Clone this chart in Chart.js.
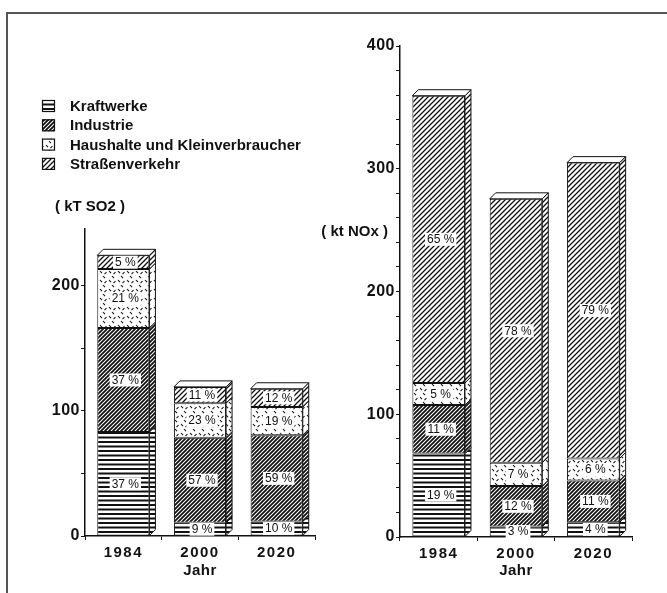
<!DOCTYPE html>
<html>
<head>
<meta charset="utf-8">
<script src="https://cdn.jsdelivr.net/npm/chart.js@4.4.1/dist/chart.umd.min.js"></script>
<style>
  html, body { margin: 0; padding: 0; background: #fff; }
  #wrap { position: relative; width: 667px; height: 593px; overflow: hidden; }
  #frame { position: absolute; left: 6px; top: 12px; width: 700px; height: 700px;
           border-top: 2px solid #555; border-left: 2px solid #555; }
  #so2 { position: absolute; left: 0; top: 0; }
  #nox { position: absolute; left: 320px; top: 0; }
</style>
</head>
<body>
<div id="wrap">
  <div id="frame"></div>
  <canvas id="so2" width="320" height="593"></canvas>
  <canvas id="nox" width="347" height="593"></canvas>
</div>
<script>
// Kategorien und Quellen
const jahre = ['1984', '2000', '2020'];
const quellen = ['Kraftwerke', 'Industrie', 'Haushalte und Kleinverbraucher', 'Straßenverkehr'];

// SO2 (kt) je Quelle
const so2Kraftwerke = [83, 10.5, 11.5];
const so2Industrie  = [83, 68, 69];
const so2Haushalte  = [47, 27.5, 22.5];
const so2Verkehr    = [11, 13, 14.5];
// Anteile (%) wie im Bild beschriftet
const so2KraftwerkePct = [37, 9, 10];
const so2IndustriePct  = [37, 57, 59];
const so2HaushaltePct  = [21, 23, 19];
const so2VerkehrPct    = [5, 11, 12];

// NOx (kt) je Quelle
const noxKraftwerke = [68, 8.5, 12];
const noxIndustrie  = [39.5, 33, 34];
const noxHaushalte  = [18, 19, 18];
const noxVerkehr    = [234, 215, 241];
const noxKraftwerkePct = [19, 3, 4];
const noxIndustriePct  = [11, 12, 11];
const noxHaushaltePct  = [5, 7, 6];
const noxVerkehrPct    = [65, 78, 79];

// Achsen
const so2Max = 245, so2Step = 50;
const noxMax = 400, noxStep = 20;

const schrift = '"Liberation Sans", Arial, sans-serif';
const tinte = '#111';
const tiefe = 6;

// Schraffuren
function kachel(w, h, zeichne) {
  const c = document.createElement('canvas');
  c.width = w; c.height = h;
  const g = c.getContext('2d');
  g.fillStyle = '#fff';
  g.fillRect(0, 0, w, h);
  g.fillStyle = tinte;
  g.strokeStyle = tinte;
  zeichne(g, w, h);
  return c;
}
function schraeg(g, s, lw) {
  g.lineWidth = lw;
  g.beginPath();
  g.moveTo(0, s); g.lineTo(s, 0);
  g.moveTo(-s / 2, s / 2); g.lineTo(s / 2, -s / 2);
  g.moveTo(s / 2, s * 1.5); g.lineTo(s * 1.5, s / 2);
  g.stroke();
}
function muster(ctx) {
  const waag = kachel(4, 9, (g) => { g.fillRect(0, 0, 4, 2); g.fillRect(0, 4.5, 4, 2); });
  const dicht = kachel(4, 4, (g) => schraeg(g, 4, 1.8));
  const strich = kachel(9, 9, (g) => {
    g.lineWidth = 1.1;
    g.beginPath();
    g.moveTo(1, 1); g.lineTo(3, 3.2);
    g.moveTo(7.5, 2); g.lineTo(5.5, 4.2);
    g.moveTo(4, 6); g.lineTo(6, 8.2);
    g.stroke();
  });
  const duenn = kachel(5, 5, (g) => schraeg(g, 5, 1.3));
  return [waag, dicht, strich, duenn].map(t => ctx.createPattern(t, 'repeat'));
}

// 3D-Seiten, Deckel und Prozentfelder
const plastik = {
  id: 'plastik',
  afterLayout(chart) {
    // Jahreszahlen gesperrt setzen
    const sx = chart.scales.x;
    if (!sx._gesperrt) {
      const orig = sx.drawLabels.bind(sx);
      sx.drawLabels = (area) => {
        chart.ctx.save();
        chart.ctx.letterSpacing = '1.5px';
        orig(area);
        chart.ctx.restore();
      };
      sx._gesperrt = true;
    }
  },
  beforeDraw(chart) {
    chart.ctx.letterSpacing = '0.5px';
  },
  afterDatasetsDraw(chart) {
    const g = chart.ctx;
    const sets = chart.data.datasets;
    g.save();
    g.letterSpacing = '0px';
    g.strokeStyle = tinte;
    g.lineWidth = 1;
    jahre.forEach((_, i) => {
      sets.forEach((ds, k) => {
        const b = chart.getDatasetMeta(k).data[i].getProps(['x', 'y', 'base', 'width'], true);
        const l = b.x - b.width / 2, r = b.x + b.width / 2;
        g.beginPath();
        g.moveTo(r, b.y);
        g.lineTo(r + tiefe, b.y - tiefe);
        g.lineTo(r + tiefe, b.base - tiefe);
        g.lineTo(r, b.base);
        g.closePath();
        g.fillStyle = ds.backgroundColor;
        g.fill();
        g.stroke();
        if (k === sets.length - 1) {
          g.beginPath();
          g.moveTo(l, b.y);
          g.lineTo(l + tiefe, b.y - tiefe);
          g.lineTo(r + tiefe, b.y - tiefe);
          g.lineTo(r, b.y);
          g.closePath();
          g.fillStyle = '#fff';
          g.fill();
          g.stroke();
        }
      });
    });
    g.font = '12px ' + schrift;
    g.textAlign = 'center';
    g.textBaseline = 'middle';
    jahre.forEach((_, i) => {
      sets.forEach((ds, k) => {
        const b = chart.getDatasetMeta(k).data[i].getProps(['x', 'y', 'base'], true);
        const t = ds.pct[i] + ' %';
        const w = g.measureText(t).width + 4;
        const cx = b.x + 2, cy = (b.y + b.base) / 2;
        g.fillStyle = '#fff';
        g.fillRect(cx - w / 2, cy - 6.5, w, 13);
        g.fillStyle = tinte;
        g.fillText(t, cx, cy + 0.5);
      });
    });
    g.restore();
  },
  afterDraw(chart, args, opts) {
    const g = chart.ctx;
    g.save();
    g.letterSpacing = '0px';
    g.font = 'bold 15px ' + schrift;
    g.fillStyle = tinte;
    g.textBaseline = 'middle';
    g.textAlign = opts.einheitAlign;
    g.fillText(opts.einheit, opts.einheitX, opts.einheitY);
    if (opts.legende) {
      const pats = chart.data.datasets.map(d => d.backgroundColor);
      quellen.forEach((q, k) => {
        const y = 106 + k * 19.3;
        g.fillStyle = pats[k];
        g.fillRect(42, y - 6, 13, 12);
        g.strokeStyle = tinte;
        g.lineWidth = 1.2;
        g.strokeRect(42.5, y - 5.5, 12, 11);
        g.fillStyle = tinte;
        g.textAlign = 'left';
        g.fillText(q, 70, y + 1);
      });
    }
    g.restore();
  }
};

function baueChart(id, reihen, anteile, yMax, yStep, yBreite, oben, rechts, xHoehe, extra) {
  const ctx = document.getElementById(id).getContext('2d');
  const pats = muster(ctx);
  const achsFont = { family: schrift, size: 15, weight: 'bold' };
  return new Chart(ctx, {
    type: 'bar',
    data: {
      labels: jahre,
      datasets: reihen.map((d, k) => ({
        label: quellen[k],
        data: d,
        pct: anteile[k],
        backgroundColor: pats[k],
        borderColor: tinte,
        borderWidth: 1,
        borderSkipped: false,
        barPercentage: 0.68,
        categoryPercentage: 1
      }))
    },
    options: {
      responsive: false,
      animation: false,
      devicePixelRatio: 1,
      layout: { padding: { top: oben, right: rechts, left: 0, bottom: 0 } },
      plugins: {
        legend: { display: false },
        tooltip: { enabled: false },
        plastik: extra
      },
      scales: {
        x: {
          stacked: true,
          border: { color: tinte, width: 1.5 },
          grid: { drawOnChartArea: false, color: tinte, tickLength: 4 },
          ticks: { color: tinte, font: achsFont, padding: 4 },
          title: { display: true, text: 'Jahr', color: tinte, font: achsFont, padding: { top: 0, bottom: 13 } },
          afterFit(s) { s.height = xHoehe; }
        },
        y: {
          stacked: true,
          min: 0,
          max: yMax,
          border: { color: tinte, width: 1.5 },
          grid: { drawOnChartArea: false, color: tinte, tickLength: 4 },
          ticks: {
            stepSize: yStep,
            autoSkip: false,
            padding: 1,
            color: tinte,
            font: { family: schrift, size: 16, weight: 'bold' },
            callback: (v) => (v % 100 === 0 ? v : '')
          },
          afterBuildTicks(s) { s.ticks = s.ticks.filter(t => t.value % yStep === 0); },
          afterFit(s) { s.width = yBreite; }
        }
      }
    },
    plugins: [plastik]
  });
}

baueChart('so2',
  [so2Kraftwerke, so2Industrie, so2Haushalte, so2Verkehr],
  [so2KraftwerkePct, so2IndustriePct, so2HaushaltePct, so2VerkehrPct],
  so2Max, so2Step, 85, 229, 5, 57,
  { einheit: '( kT SO2 )', einheitX: 55, einheitY: 207, einheitAlign: 'left', legende: true });

baueChart('nox',
  [noxKraftwerke, noxIndustrie, noxHaushalte, noxVerkehr],
  [noxKraftwerkePct, noxIndustriePct, noxHaushaltePct, noxVerkehrPct],
  noxMax, noxStep, 80, 46, 35, 56,
  { einheit: '( kt NOx )', einheitX: 68, einheitY: 232, einheitAlign: 'right', legende: false });
</script>
</body>
</html>
